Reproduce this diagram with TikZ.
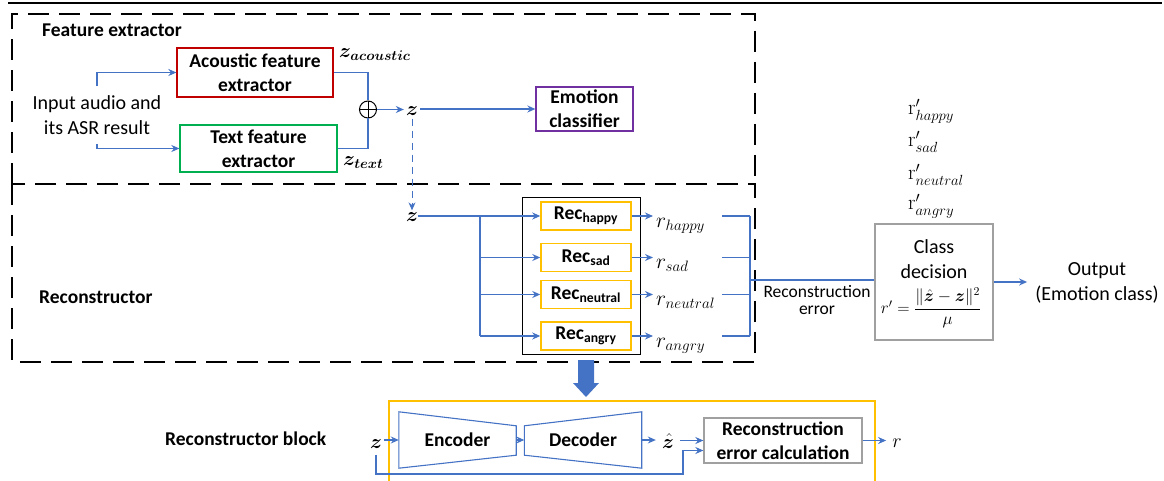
\RequirePackage{fix-cm}
\documentclass[tikz,border=0pt]{standalone}
\usepackage{amsmath,amssymb}
\usepackage{bm}
\usepackage[no-math]{fontspec}
\setmainfont{Carlito}
\usetikzlibrary{arrows.meta, positioning, calc}
\definecolor{flowblue}{RGB}{68,114,196}
\definecolor{acoured}{RGB}{192,0,0}
\definecolor{textgreen}{RGB}{0,176,80}
\definecolor{emopurple}{RGB}{112,48,160}
\definecolor{recyellow}{RGB}{255,192,0}
\definecolor{calcgray}{RGB}{160,160,160}
\tikzset{
  plain/.style={font=\fontsize{20}{25}\selectfont, align=center, inner sep=0pt},
  smalltext/.style={font=\fontsize{17.5}{17}\selectfont, align=center, inner sep=0pt},
  title/.style={font=\fontsize{19.5}{24}\selectfont\bfseries, anchor=west, inner sep=0pt},
  extractor/.style={
    rectangle, line width=1.3pt, align=center, inner sep=0pt,
    font=\fontsize{19.5}{24}\selectfont\bfseries
  },
  recbox/.style={
    rectangle, draw=recyellow, line width=1.5pt, minimum width=90pt, minimum height=28pt,
    inner sep=0pt, font=\fontsize{19.5}{24}\selectfont\bfseries
  },
  coder/.style={minimum width=117pt, minimum height=56pt, inner sep=0pt,
    font=\fontsize{19.5}{24}\selectfont\bfseries},
  mathlbl/.style={inner sep=0pt, font=\fontsize{20}{24}\selectfont},
  groupbox/.style={draw, line width=2.5pt, dash pattern=on 21pt off 10pt},
  sumnode/.style={
    circle, draw, line width=1pt, minimum size=17pt, inner sep=0pt,
    path picture={\draw[line width=1pt] (path picture bounding box.north) -- (path picture bounding box.south)
      (path picture bounding box.west) -- (path picture bounding box.east);}
  },
  arrow/.style={-{Stealth[length=8pt,width=7pt]}, flowblue, line width=1.3pt},
  link/.style={flowblue, line width=1.3pt},
  thicklink/.style={flowblue, line width=2pt},
  trap/.style={flowblue, line width=1.1pt}
}
\begin{document}
\begin{tikzpicture}[x=1pt, y=-1pt]
  \useasboundingbox (0,0) rectangle (1164,481);
  \draw[line width=1.2pt] (8,3) -- (1162,3);

  % feature extractor
  \draw[groupbox] (12,184) -- (12,14) -- (755,14) -- (755,184);
  \node[title] (featlbl) at (42,30) {Feature extractor};
  \node[plain, inner ysep=9pt] (input) at (97,115) {Input audio and\\its ASR result};
  \node[extractor, draw=acoured, minimum width=156pt, minimum height=49pt] (acou) at (255,72.5) {Acoustic feature\\extractor};
  \node[extractor, draw=textgreen, minimum width=157pt, minimum height=47pt] (textfeat) at (258.5,148.5) {Text feature\\extractor};
  \draw[arrow] (input.north) |- (acou.west);
  \draw[arrow] (input.south) |- (textfeat.west);
  \node[sumnode] (sum) at (368,109.5) {};
  \draw[link] (acou.east) -| (sum.north);
  \draw[link] (textfeat.east) -| (sum.south);
  \node[mathlbl, anchor=base west] (zacou) at (339,58) {$\bm{z}_{\bm{acoustic}}$};
  \node[mathlbl, anchor=base west] (ztext) at (343,166) {$\bm{z}_{\bm{text}}$};
  \node[mathlbl] (zfeat) at (412,111) {$\bm{z}$};
  \node[extractor, draw=emopurple, minimum width=97pt, minimum height=44pt] (emo) at (584.5,109) {Emotion\\classifier};
  \draw[arrow] (sum.east) -- ([xshift=-2pt]sum.east -| zfeat.west);
  \draw[arrow] ([xshift=2pt]zfeat.east |- emo.west) -- (emo.west);

  % reconstructor
  \draw[groupbox] (12,184) rectangle (755,362);
  \node[title] (reclbl) at (39,297) {Reconstructor};
  \node[mathlbl] (zrec) at (412,217) {$\bm{z}$};
  \draw[arrow, line width=1pt, dash pattern=on 7pt off 5pt, shorten <=3pt, shorten >=2pt] (zfeat.south) -- (zrec.north);
  \node[draw, line width=1pt, minimum width=118pt, minimum height=156pt] (recgroup) at (581,276) {};
  \coordinate (fan) at (480,216);
  \coordinate (rstart) at (722,0);
  \coordinate (rjoin) at (750,280);
  \foreach \e/\y in {happy/216, sad/257.5, neutral/294.5, angry/336} {
    \node[recbox] (rec\e) at (586,\y) {Rec\textsubscript{\e}};
    \node[mathlbl, font=\fontsize{21.5}{24}\selectfont, anchor=base west] (r\e) at (656,\y+11) {$r_{\e}$};
    \draw[arrow] (rec\e.east) -- ([xshift=-3pt]rec\e.east -| r\e.west);
    \draw[arrow] (fan |- rec\e.west) -- (rec\e.west);
    \draw[link] (rstart |- rec\e.east) -- (rjoin |- rec\e.east);
  }
  \draw[thicklink] (zrec.east |- fan) -- (fan);
  \draw[link] (fan) -- (fan |- recangry.west);
  \draw[thicklink] (rstart |- recangry.east) -- (rjoin |- recangry.east);
  \draw[thicklink] (rjoin |- rechappy.east) -- (rjoin |- recangry.east);

  % class decision
  \foreach \e/\y in {happy/115, sad/147, neutral/180, angry/210}
    \node[mathlbl, font=\fontsize{21}{24}\selectfont, anchor=base west] (rp\e) at (908,\y) {$\mathrm{r}'_{\e}$};
  \node[draw=calcgray, line width=1.2pt, minimum width=118pt, minimum height=116pt] (decide) at (934,282) {};
  \node[plain] (decidetxt) at (934,259) {Class\\decision};
  \node[inner sep=0pt, font=\fontsize{17}{20}\selectfont] (rule) at (931,308) {$r'=\dfrac{\|\hat{\bm z}-\bm z\|^2}{\mu}$};
  \draw[link] (rjoin) -- (rjoin -| decide.west);
  \node[smalltext] (recerr) at (817,300) {Reconstruction\\error};
  \node[plain] (output) at (1097,282.5) {Output\\(Emotion class)};
  \draw[arrow] (decide.east) -- ([xshift=-8pt]decide.east -| output.west);

  % reconstructor block
  \fill[flowblue] (578,360) -- (594,360) -- (594,383) -- (599,383) -- (586,397) -- (573,383) -- (578,383) -- cycle;
  \draw[recyellow, line width=1.5pt] (389,482) |- (875,401) -- (875,482);
  \node[title] (blocklbl) at (165,439) {Reconstructor block};
  \node[mathlbl] (zblk) at (376,444) {$\bm{z}$};
  \node[coder] (enc) at (457.5,440) {Encoder};
  \node[coder] (dec) at (583,440) {Decoder};
  \draw[trap] (enc.north west) -- ([yshift=-14pt]enc.north east) -- ([yshift=13pt]enc.south east) -- (enc.south west) -- cycle;
  \draw[trap] (dec.north east) -- ([yshift=-14pt]dec.north west) -- ([yshift=13pt]dec.south west) -- (dec.south east) -- cycle;
  \draw[arrow] ([xshift=2pt]zblk.east |- enc.west) -- (enc.west);
  \draw[arrow] (enc.east) -- (dec.west);
  \node[mathlbl] (zhat) at (668,441) {$\hat{\bm z}$};
  \node[extractor, draw=calcgray, minimum width=158pt, minimum height=45pt] (errcalc) at (783,440.5) {Reconstruction\\error calculation};
  \draw[arrow] (dec.east) -- ([xshift=-6pt]dec.east -| zhat.west);
  \draw[arrow] ([xshift=6pt]zhat.east |- errcalc.west) -- (errcalc.west);
  \coordinate (bypass) at (683,474);
  \draw[arrow, shorten <=6pt] (zblk.south) |- (bypass) |- ([yshift=-10pt]errcalc.west);
  \node[mathlbl] (rout) at (897,443) {$r$};
  \draw[arrow] (errcalc.east) -- ([xshift=-6pt]errcalc.east -| rout.west);
\end{tikzpicture}
\end{document}
